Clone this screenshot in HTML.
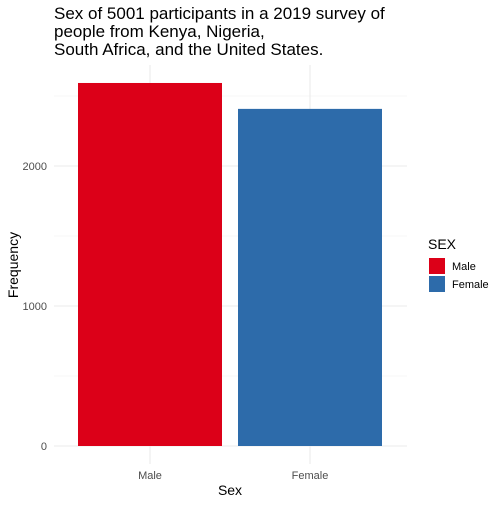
<!DOCTYPE html>
<html><head><meta charset="utf-8"><style>
body{margin:0;background:#fff;font-family:"Liberation Sans",sans-serif;}
</style></head><body>
<svg id="chart" width="504" height="504" xmlns="http://www.w3.org/2000/svg">
<rect width="504" height="504" fill="#fff"/>
<g id="grid"></g>
<g id="bars"></g>
<g id="axes"></g>
<text x="54" y="19" font-size="17" fill="#000">
<tspan x="54" y="19">Sex of 5001 participants in a 2019 survey of</tspan>
<tspan x="54" y="37">people from Kenya, Nigeria,</tspan>
<tspan x="54" y="55">South Africa, and the United States.</tspan>
</text>
<text x="230" y="495" font-size="14" text-anchor="middle">Sex</text>
<text transform="translate(18,265) rotate(-90)" font-size="14" text-anchor="middle">Frequency</text>
<g id="legend">
<text x="428" y="249" font-size="14">SEX</text>
</g>
</svg>
<script>
const categories = ["Male","Female"];
const counts = [2593, 2408];
const colors = ["#DC0018","#2D6BAA"];
const yTicks = [0,1000,2000];
const yMinor = [500,1500,2500];

const ns="http://www.w3.org/2000/svg";
const panelL=54, panelR=407, y0=446, pxPer=0.14, unit=160;
const yS=v=>y0-v*pxPer;
const xS=i=>panelL+unit*(0.6+i);
function mk(tag,attrs,parent){const e=document.createElementNS(ns,tag);for(const k in attrs)e.setAttribute(k,attrs[k]);document.getElementById(parent).appendChild(e);return e;}
yMinor.forEach(v=>{const l=mk('line',{x1:panelL,x2:panelR,y1:yS(v),y2:yS(v),stroke:'#f0f0f0','stroke-width':0.6},'grid');

});
yTicks.forEach(v=>{const l=mk('line',{x1:panelL,x2:panelR,y1:yS(v),y2:yS(v),stroke:'#ebebeb','stroke-width':1.1},'grid');


const t=mk('text',{x:47,y:yS(v)+4,'font-size':11,fill:'#4d4d4d','text-anchor':'end'},'axes');t.textContent=v;

});
categories.forEach((c,i)=>{const l=mk('line',{x1:xS(i),x2:xS(i),y1:65,y2:464,stroke:'#ebebeb','stroke-width':1.1},'grid');


const b=mk('rect',{x:xS(i)-0.45*unit,width:0.9*unit,y:yS(counts[i]),height:counts[i]*pxPer,fill:colors[i]},'bars');


const t=mk('text',{x:xS(i),y:479,'font-size':11,fill:'#4d4d4d','text-anchor':'middle'},'axes');t.textContent=c;


const k=mk('rect',{x:429,y:258+i*18,width:16,height:16,fill:colors[i]},'legend');


const lt=mk('text',{x:452,y:270+i*18,'font-size':11,fill:'#000'},'legend');lt.textContent=c;

});
</script>
</body></html>
